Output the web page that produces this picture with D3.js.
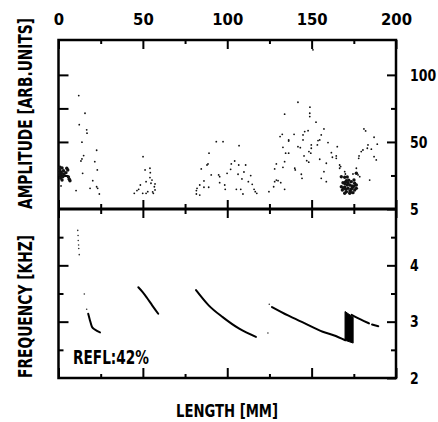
<!DOCTYPE html>
<html>
<head>
<meta charset="utf-8">
<script src="https://cdn.jsdelivr.net/npm/d3@7"></script>
<style>
  body { margin: 0; background: #fff; }
  svg { display: block; }
</style>
</head>
<body>
<div id="chart"></div>
<script>
const W = 438
const H = 422

// --- Data ---

// tick labels
const xTickLabels = [0, 50, 100, 150, 200]
const xMinorTicks = [25, 75, 125, 175]
const ampTickLabels = [50, 100]
const ampMinorTicks = [25, 75]
const freqTickLabels = [2, 3, 4, 5]
const freqMinorTicks = [2.5, 3.5, 4.5]

// amplitude scatter, [length mm, amplitude], one list per echo
const echo0 = [[12.0,84.6],[15.7,71.4],[12.3,62.9],[16.7,59.0],[16.9,56.5],[13.9,49.8],[22.6,43.8],[14.9,39.8],[13.9,37.3],[13.3,35.8],[21.5,35.3],[23.0,29.1],[14.3,26.6],[20.3,21.1],[1.5,17.2],[22.6,16.6],[23.2,15.4],[18.7,15.4],[10.4,13.7],[24.2,11.2]]
const echo1 = [[50.1,39.0],[51.3,29.1],[54.2,30.4],[54.4,27.1],[54.2,23.4],[51.9,20.4],[54.8,19.2],[57.2,18.7],[56.8,16.6],[48.5,17.9],[47.5,14.7],[46.5,13.7],[57.2,14.2],[49.9,11.7],[51.9,11.7],[52.9,12.9],[56.2,11.7],[44.9,11.7],[55.4,21.6],[55.8,12.7]]
const echo2 = [[93.5,50.2],[97.5,50.2],[107.0,47.2],[89.2,41.6],[104.4,35.8],[88.6,33.6],[88.0,32.8],[102.4,33.6],[106.8,32.8],[110.9,32.8],[84.6,29.9],[102.0,29.6],[99.9,26.6],[109.9,27.6],[90.5,25.4],[94.9,25.4],[95.5,24.1],[113.9,24.9],[106.4,25.9],[108.7,22.4],[86.2,20.9],[112.5,20.4],[83.7,17.9],[86.2,16.2],[89.0,16.2],[95.5,19.6],[98.5,17.9],[98.8,14.7],[114.8,18.4],[82.1,15.4],[81.7,13.7],[105.4,14.7],[108.0,14.7],[115.9,14.7],[116.6,12.9],[117.5,11.7],[81.7,11.2],[83.7,10.4],[109.3,11.2]]
const echo3 = [[134.0,70.7],[132.6,55.7],[131.3,54.0],[136.4,50.7],[133.0,46.0],[134.6,41.6],[134.0,35.3],[129.1,33.6],[128.1,29.9],[133.0,31.1],[128.1,20.4],[129.1,21.6],[130.1,21.1],[131.7,19.6],[127.5,16.6],[124.7,12.9],[134.0,14.7],[136.4,51.5],[136.4,41.6]]
const echo4 = [[150.8,118.7],[141.9,79.6],[149.0,75.9],[148.9,71.4],[148.9,68.9],[152.6,64.7],[157.3,59.7],[147.9,58.4],[145.9,57.7],[181.0,59.7],[182.0,58.2],[139.6,55.7],[144.9,55.2],[155.7,55.2],[154.8,51.5],[153.8,51.0],[144.9,51.5],[159.7,49.5],[187.0,53.5],[188.9,48.3],[153.4,47.8],[149.8,47.8],[149.8,45.3],[141.9,46.5],[143.3,45.7],[183.4,47.8],[148.4,42.8],[149.5,41.6],[165.2,46.5],[185.4,44.6],[161.7,42.0],[162.3,38.6],[164.6,39.6],[164.6,37.8],[180.4,44.0],[179.4,42.8],[145.5,39.6],[178.1,39.6],[177.9,37.8],[154.8,37.1],[188.3,36.6],[187.0,39.0],[147.1,36.0],[148.3,34.9],[158.7,34.1],[166.6,32.8],[167.2,31.6],[166.6,30.4],[140.0,30.4],[169.6,27.8],[170.0,26.1],[140.3,29.1],[143.9,25.9],[144.3,22.9],[176.5,30.4],[177.5,25.4],[178.5,24.1],[174.5,26.1],[157.3,27.8],[155.7,22.9],[158.7,20.4],[184.4,21.6],[183.0,45.3]]
// dense blobs at the two ends
const blobStart = [[0.9,25.4],[1.5,27.6],[2.1,30.6],[2.7,24.6],[1.2,23.1],[4.9,30.4],[5.5,29.1],[4.4,27.1],[6.4,22.2],[6.8,21.1],[0.6,29.1],[3.3,26.1],[2.1,21.6],[5.9,23.9],[0.9,31.1],[2.5,24.1],[1.8,26.5],[0.7,27.0],[3.0,28.5]]
const blobEnd = [[167.6,24.1],[169.6,23.7],[170.6,21.1],[171.6,19.6],[168.6,19.6],[173.5,20.4],[175.5,19.2],[176.5,17.9],[167.6,16.6],[169.6,16.2],[171.6,15.4],[173.5,14.7],[175.5,14.2],[170.6,12.9],[172.6,11.7],[174.5,12.2],[169.6,11.7],[176.5,15.4],[175.1,21.6],[172.6,17.9],[168.2,14.2],[171.1,17.9],[176.5,26.6],[169.8,18.7],[172.7,13.4],[173.9,17.2],[168.9,15.7],[171.1,23.9],[170.2,14.8],[174.2,16.0],[172.0,21.5],[170.0,20.0],[173.0,12.5],[175.0,17.0]]

// frequency, [length mm, kHz]
const freqDots = [[11.4,4.62],[11.6,4.53],[11.7,4.44],[11.9,4.36],[12.0,4.30],[12.3,4.19],[15.3,3.49],[16.7,3.22],[124.1,2.80],[124.9,3.31]]
const sweep1 = [[17.6,3.14],[18.5,3.04],[19.8,2.91],[21.5,2.86],[24.6,2.81]]
const sweep2 = [[47.3,3.61],[50,3.52],[52.5,3.42],[55.5,3.29],[59.1,3.14]]
const sweep3 = [[81.5,3.56],[89,3.29],[97.3,3.08],[107.1,2.875],[117,2.73]]
const sweep4 = [[126.5,3.26],[136,3.11],[146,2.97],[156.6,2.82],[163,2.76],[170,2.67]]
const sweep5a = [[173.7,3.12],[179,3.04],[184,2.97]]
const sweep5b = [[185.8,2.95],[189.5,2.92]]
// [length, low kHz, high kHz] of the filled jump
const freqJump = [[169.8,2.67,3.18],[174.6,2.62,3.08]]

// --- Layout ---

const xLeft = 58.5, xRight = 396
const yTop = 40, yMid = 209, yBot = 378

const font = "'DejaVu Sans Condensed', 'DejaVu Sans', sans-serif"

const svg = d3.select("#chart")
  .append("svg")
    .attr("width", W)
    .attr("height", H)

const x = d3.scaleLinear().domain([0, 200]).range([xLeft, xRight])
const yA = d3.scaleLinear().domain([0, 126]).range([yMid, yTop])
const yF = d3.scaleLinear().domain([2, 5]).range([yBot, yMid])

// helper: draw an axis, drop its domain line, restyle
const drawAxis = (gen, tx, ty, size = 16.5) => {
  const g = svg.append("g")
    .attr("transform", `translate(${tx},${ty})`)
    .call(gen)
  g.select(".domain").remove()
  g.selectAll("line").attr("stroke", "#000").attr("stroke-width", 2)
  g.selectAll("text")
    .attr("fill", "#000")
    .attr("font-family", font)
    .attr("font-weight", "bold")
    .attr("font-size", size)
  return g
}

// top axis with labels, ticks pointing in
drawAxis(d3.axisTop(x).tickValues(xTickLabels).tickSize(-9).tickPadding(15).tickFormat(d3.format("d")), 0, yTop)
drawAxis(d3.axisTop(x).tickValues(xMinorTicks).tickSize(-4).tickFormat(""), 0, yTop)

// divider: ticks cross the line
drawAxis(d3.axisTop(x).tickValues(xTickLabels).tickSize(9).tickFormat(""), 0, yMid)
drawAxis(d3.axisBottom(x).tickValues(xTickLabels).tickSize(9).tickFormat(""), 0, yMid)
drawAxis(d3.axisTop(x).tickValues(xMinorTicks).tickSize(5).tickFormat(""), 0, yMid)
drawAxis(d3.axisBottom(x).tickValues(xMinorTicks).tickSize(5).tickFormat(""), 0, yMid)

// bottom
drawAxis(d3.axisTop(x).tickValues(xTickLabels).tickSize(10).tickFormat(""), 0, yBot)
drawAxis(d3.axisTop(x).tickValues(xMinorTicks).tickSize(4).tickFormat(""), 0, yBot)

// left, inward
drawAxis(d3.axisRight(yA).tickValues(ampTickLabels.concat(ampMinorTicks)).tickSize(10).tickFormat(""), xLeft, 0)
drawAxis(d3.axisRight(yF).tickValues([3, 4]).tickSize(10).tickFormat(""), xLeft, 0)
drawAxis(d3.axisRight(yF).tickValues(freqMinorTicks).tickSize(5).tickFormat(""), xLeft, 0)

// right, inward, labels outside (narrow, tall digits like the original)
const rightLabels = g => g.selectAll("text")
  .attr("textLength", d => String(d).length * 8.7)
  .attr("lengthAdjust", "spacingAndGlyphs")
  .attr("transform", "scale(1,1.1)")
  .attr("y", function () { return +d3.select(this).attr("y") || 0 })
rightLabels(drawAxis(d3.axisRight(yA).tickValues(ampTickLabels).tickSize(-9).tickPadding(14).tickFormat(d3.format("d")), xRight, 0, 14.8))
drawAxis(d3.axisRight(yA).tickValues(ampMinorTicks).tickSize(-5).tickFormat(""), xRight, 0)
rightLabels(drawAxis(d3.axisRight(yF).tickValues(freqTickLabels).tickSize(-9).tickPadding(14).tickFormat(d3.format("d")), xRight, 0, 14.8))
drawAxis(d3.axisRight(yF).tickValues(freqMinorTicks).tickSize(-5).tickFormat(""), xRight, 0)

// frame and divider
svg.append("rect")
  .attr("x", xLeft).attr("y", yTop)
  .attr("width", xRight - xLeft).attr("height", yBot - yTop)
  .attr("fill", "none").attr("stroke", "#000").attr("stroke-width", 2.5)
svg.append("line")
  .attr("x1", xLeft).attr("x2", xRight)
  .attr("y1", yMid).attr("y2", yMid)
  .attr("stroke", "#000").attr("stroke-width", 2.8)

// --- Amplitude scatter ---
const dots = svg.append("g").attr("fill", "#111")
;[echo0, echo1, echo2, echo3, echo4].forEach(list => {
  dots.selectAll(null).data(list).enter()
    .append("circle")
      .attr("cx", d => x(d[0]))
      .attr("cy", d => yA(d[1]))
      .attr("r", 0.9)
})
;[blobStart, blobEnd].forEach(list => {
  dots.selectAll(null).data(list).enter()
    .append("circle")
      .attr("cx", d => x(d[0]))
      .attr("cy", d => yA(d[1]))
      .attr("r", 1.7)
})

// --- Frequency sweeps ---
const line = d3.line()
  .x(d => x(d[0]))
  .y(d => yF(d[1]))
  .curve(d3.curveMonotoneX)

;[sweep1, sweep2, sweep3, sweep4, sweep5a, sweep5b].forEach(s => {
  svg.append("path")
    .datum(s)
    .attr("d", line)
    .attr("fill", "none")
    .attr("stroke", "#000")
    .attr("stroke-width", 2)
    .attr("stroke-linecap", "round")
})

svg.append("path")
  .datum(freqJump)
  .attr("d", d3.area().x(d => x(d[0])).y0(d => yF(d[1])).y1(d => yF(d[2])))
  .attr("fill", "#000")
  .attr("stroke", "#000")
  .attr("stroke-width", 1)

svg.append("g").selectAll("circle")
  .data(freqDots).enter()
  .append("circle")
    .attr("cx", d => x(d[0]))
    .attr("cy", d => yF(d[1]))
    .attr("r", 0.8)
    .attr("fill", "#333")

// --- Text: narrow, tall lettering, stretched vertically ---
const label = (txt, tx, ty, size, len, stretch, rot) => {
  svg.append("text")
    .attr("transform", `translate(${tx},${ty})` + (rot ? ` rotate(${rot})` : "") + ` scale(1,${stretch})`)
    .attr("text-anchor", "middle")
    .attr("font-family", font)
    .attr("font-weight", "bold")
    .attr("font-size", size)
    .attr("textLength", len)
    .attr("lengthAdjust", "spacingAndGlyphs")
    .text(txt)
}

label("AMPLITUDE [ARB.UNITS]", 31.5, 113.5, 15.3, 191, 1.3, -90)
label("FREQUENCY [KHZ]", 31.5, 306.5, 15.3, 143, 1.3, -90)
label("LENGTH [MM]", 227, 417, 14.6, 102, 1.26)
label("REFL:42%", 111, 364, 15.2, 76, 1.26)
</script>
</body>
</html>
